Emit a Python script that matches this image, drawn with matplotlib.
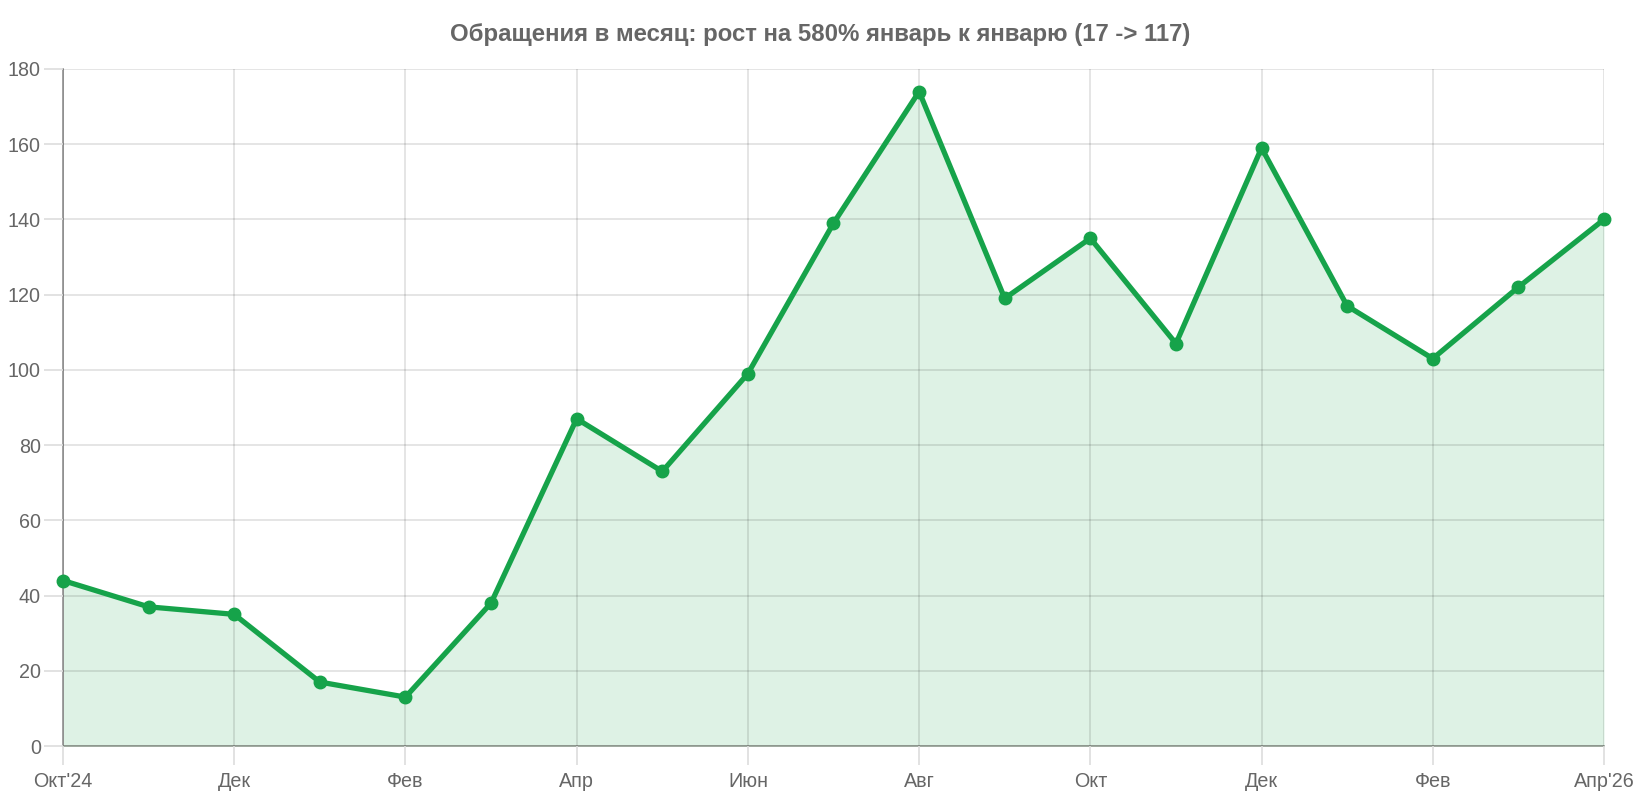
import matplotlib.pyplot as plt

plt.rcParams['font.family'] = ['Liberation Sans', 'DejaVu Sans']

# monthly values, Oct 2024 .. Apr 2026
months = ["Окт'24", "Ноя", "Дек", "Янв", "Фев", "Мар", "Апр", "Май", "Июн", "Июл",
          "Авг", "Сен", "Окт", "Ноя", "Дек", "Янв", "Фев", "Мар", "Апр'26"]
requests = [44, 37, 35, 17, 13, 38, 87, 73, 99, 139, 174, 119, 135, 107, 159, 117, 103, 122, 140]

title = "Обращения в месяц: рост на 580% январь к январю (17 -> 117)"

green = '#16a34a'
text_color = '#666666'

fig = plt.figure(figsize=(16.4, 8), dpi=100)
ax = fig.add_axes([63 / 1640, 1 - 746 / 800, (1604 - 63) / 1640, (746 - 69) / 800])

x = list(range(len(months)))
ax.fill_between(x, requests, 0, color=green, alpha=0.14, linewidth=0, zorder=1)
ax.plot(x, requests, color=green, linewidth=3.8, marker='o', markersize=9,
        solid_joinstyle='round', zorder=3, clip_on=False)

ax.set_xlim(0, len(months) - 1)
ax.set_ylim(0, 180)
ax.set_yticks(range(0, 181, 20))
ax.set_xticks(x[::2])
ax.set_xticklabels(months[::2])

# grid goes over the fill, as in the original
ax.set_axisbelow(False)
ax.grid(True, color='black', alpha=0.12, linewidth=1.2)
for gl in ax.get_xgridlines() + ax.get_ygridlines():
    gl.set_zorder(2)
ax.tick_params(axis='both', colors='#dddddd', labelcolor=text_color,
               labelsize=14.2, length=14, width=1.2)
ax.tick_params(axis='y', pad=2)
ax.tick_params(axis='x', pad=5)
for s in ['top', 'right']:
    ax.spines[s].set_visible(False)
ax.spines['left'].set_color('#999999')
ax.spines['bottom'].set_color('#99a399')
ax.spines['left'].set_linewidth(1.3)
ax.spines['bottom'].set_linewidth(1.3)
ax.spines['left'].set_zorder(2.5)
ax.spines['bottom'].set_zorder(2.5)

fig.text(0.5, 1 - 34 / 800, title, ha='center', va='center',
         fontsize=17.3, fontweight='bold', color=text_color)

fig.savefig('out.png', dpi=100)
